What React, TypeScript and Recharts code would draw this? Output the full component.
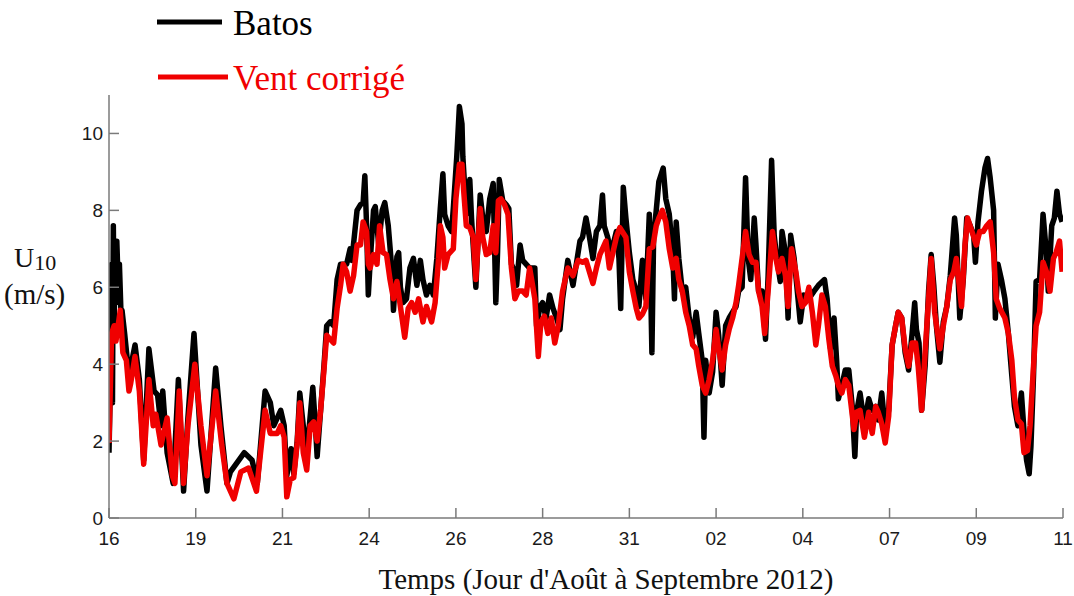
import React from "react";
import { LineChart, Line, XAxis, YAxis } from "recharts";

// x in tick units (0 = "16", 11 = "11"), y = U10 in m/s
const xLabels = ["16", "19", "21", "24", "26", "28", "31", "02", "04", "07", "09", "11"];
const xTicks = [0, 1, 2, 3, 4, 5, 6, 7, 8, 9, 10, 11];
const yTicks = [0, 2, 4, 6, 8, 10];

const batosT = [
  0.0, 0.02, 0.03, 0.04, 0.05, 0.06, 0.07, 0.08, 0.09, 0.11, 0.12, 0.14, 0.15, 0.18, 0.23, 0.3, 0.35, 0.4, 0.46, 0.52,
  0.56, 0.6, 0.62, 0.67, 0.74, 0.8, 0.86, 0.91, 0.98, 1.06, 1.13, 1.23, 1.29, 1.36, 1.4, 1.56, 1.65, 1.71, 1.8,
  1.86, 1.9, 1.98, 2.02, 2.05, 2.1, 2.13, 2.17, 2.2, 2.24, 2.28, 2.31, 2.35, 2.38, 2.4, 2.44, 2.48, 2.51, 2.55, 2.59,
  2.63, 2.67, 2.74, 2.78, 2.8, 2.86, 2.9, 2.93, 2.95, 2.97, 2.99, 3.01, 3.05, 3.07, 3.11, 3.15, 3.18, 3.22, 3.26, 3.28,
  3.32, 3.34, 3.36, 3.39, 3.43, 3.47, 3.51, 3.55, 3.59,
  3.62, 3.66, 3.7, 3.74, 3.78, 3.82, 3.85, 3.87, 3.91, 3.95, 3.97, 4.01, 4.04, 4.07, 4.08, 4.12, 4.16, 4.18, 4.21, 4.23,
  4.26, 4.28, 4.31, 4.35, 4.39, 4.43, 4.46, 4.48, 4.5, 4.54, 4.58, 4.61, 4.64, 4.66, 4.7, 4.74, 4.77, 4.85, 4.91, 4.93,
  4.97, 5.0, 5.04, 5.08, 5.12, 5.16, 5.2, 5.23, 5.29, 5.35, 5.43,
  5.46, 5.5, 5.54, 5.58, 5.62, 5.66, 5.69, 5.71, 5.75, 5.79, 5.85, 5.88, 5.9, 5.93, 5.96, 6.0, 6.04, 6.08, 6.11, 6.15,
  6.19, 6.23, 6.26, 6.28, 6.31, 6.34, 6.39, 6.42, 6.46, 6.5, 6.52, 6.54, 6.57, 6.61, 6.65, 6.69, 6.73, 6.77, 6.8, 6.84,
  6.86, 6.88, 6.92, 6.96, 7.0, 7.03, 7.07, 7.11, 7.15, 7.23, 7.26,
  7.3, 7.34, 7.37, 7.4, 7.44, 7.46, 7.49, 7.53, 7.57, 7.6, 7.64, 7.67, 7.7, 7.74, 7.76, 7.8, 7.83, 7.86, 7.9, 7.93,
  7.97, 8.01, 8.07, 8.13, 8.18, 8.25, 8.28, 8.32, 8.36, 8.39, 8.41, 8.45, 8.49, 8.53, 8.57, 8.6, 8.62, 8.66, 8.71, 8.76,
  8.8, 8.84, 8.87, 8.91, 8.95, 8.99, 9.03, 9.07, 9.1,
  9.14, 9.18, 9.22, 9.26, 9.29, 9.31, 9.34, 9.37, 9.41, 9.45, 9.48, 9.51, 9.54, 9.58, 9.62, 9.66, 9.7, 9.75, 9.77, 9.81,
  9.85, 9.89, 9.93, 9.97, 9.99, 10.02, 10.06, 10.1, 10.13, 10.16, 10.2, 10.22, 10.25, 10.29, 10.33, 10.37, 10.41, 10.44,
  10.48, 10.52, 10.56, 10.58, 10.61, 10.63, 10.66, 10.69, 10.73, 10.77, 10.81, 10.83, 10.87, 10.9, 10.93, 10.96, 10.99,
];
const batosU = [
  1.7, 4.0, 6.6, 3.0, 7.6, 5.0, 7.2, 5.6, 7.2, 5.8, 6.6, 5.2, 5.4, 4.8, 3.7, 4.5, 3.6, 1.5, 4.4, 3.3,
  3.2, 2.4, 3.3, 1.7, 0.9, 3.6, 0.7, 2.6, 4.8, 1.9, 0.7, 3.9, 2.4, 0.9, 1.2, 1.7, 1.5, 0.9, 3.3,
  3.0, 2.4, 2.8, 2.4, 1.1, 1.8, 1.15, 2.0, 3.25, 2.4, 1.7, 2.4, 3.4, 2.4, 1.6, 2.8, 4.0, 5.0, 5.1, 5.0,
  6.2, 6.6, 6.6, 7.0, 6.7, 8.0, 8.15, 8.2, 8.9, 7.6, 5.8, 6.6, 8.0, 8.1, 7.1, 8.0, 8.2, 7.6, 6.5, 5.4,
  6.8, 6.9, 6.0, 5.6, 5.7, 6.5, 6.75, 6.05, 6.7,
  6.2, 5.8, 6.05, 5.8, 6.75, 8.05, 8.95, 7.9, 7.6, 7.45, 8.05, 9.4, 10.7, 10.25, 9.4, 7.9, 8.8, 7.8, 6.7, 6.0,
  7.45, 8.4, 7.8, 7.45, 8.3, 8.7, 5.6, 6.9, 8.8, 8.25, 8.15, 8.05, 6.6, 6.5, 6.05, 7.1, 6.7, 6.5, 6.5, 5.0,
  5.5, 5.6, 5.2, 5.8, 5.45, 5.2, 4.9, 5.7, 6.7, 6.05, 7.2,
  7.3, 7.8, 7.3, 6.75, 7.45, 7.6, 8.4, 7.6, 7.3, 6.9, 7.45, 6.75, 5.45, 8.6, 7.8, 6.9, 6.2, 5.9, 5.5, 6.7,
  5.7, 7.9, 4.3, 7.35, 8.0, 8.75, 9.1, 8.3, 7.9, 6.9, 5.7, 7.7, 6.75, 5.9, 6.0, 5.2, 4.7, 5.35, 4.8, 4.1,
  2.1, 4.1, 3.25, 3.8, 5.35, 4.75, 3.45, 5.0, 5.2, 5.5, 5.9,
  6.0, 8.85, 6.75, 6.2, 7.8, 7.1, 5.9, 5.9, 4.65, 6.3, 9.3, 7.35, 6.75, 6.15, 7.45, 6.9, 5.2, 7.35, 6.75, 6.05,
  5.1, 5.8, 5.7, 5.9, 6.05, 6.2, 5.7, 4.4, 5.2, 4.1, 3.1, 3.45, 3.85, 3.85, 2.9, 1.6, 2.75, 3.25, 2.45, 3.1,
  2.8, 2.9, 2.55, 3.25, 2.3, 2.8, 4.5, 5.0, 5.35,
  5.2, 4.3, 3.85, 4.8, 5.6, 4.9, 4.55, 2.8, 3.95, 5.9, 6.85, 6.05, 5.0, 4.05, 5.1, 5.5, 6.3, 7.8, 7.35, 5.2,
  6.2, 7.8, 7.6, 7.35, 6.65, 7.7, 8.5, 9.1, 9.35, 8.85, 8.0, 5.2, 6.6, 6.2, 5.7, 4.8, 3.7, 2.9,
  2.4, 3.25, 1.95, 1.5, 1.15, 1.85, 3.7, 6.15, 6.2, 7.9, 6.85, 5.9, 7.6, 7.8, 8.5, 7.9, 7.7,
];

const ventT = [
  0.0, 0.03, 0.06, 0.08, 0.13, 0.16, 0.2, 0.23, 0.25, 0.3, 0.35, 0.4, 0.46, 0.51, 0.54, 0.6, 0.67, 0.73, 0.76, 0.81,
  0.86, 0.91, 0.99, 1.06, 1.13, 1.23, 1.3, 1.36, 1.44, 1.52, 1.61, 1.7, 1.8,
  1.86, 1.94, 1.98, 2.02, 2.05, 2.09, 2.13, 2.17, 2.2, 2.24, 2.28, 2.32, 2.36, 2.4, 2.44, 2.48, 2.51, 2.59, 2.63, 2.67,
  2.7, 2.74, 2.78, 2.82, 2.86, 2.9, 2.93, 2.97, 2.99, 3.01, 3.05, 3.09, 3.12, 3.16, 3.2, 3.24, 3.28, 3.32, 3.36, 3.41,
  3.45, 3.49, 3.53, 3.57,
  3.62, 3.66, 3.72, 3.76, 3.8, 3.82, 3.85, 3.87, 3.91, 3.97, 4.0, 4.04, 4.07, 4.09, 4.12, 4.16, 4.2, 4.23, 4.26, 4.28,
  4.31, 4.35, 4.39, 4.43, 4.46, 4.49, 4.52, 4.56, 4.6, 4.64, 4.68, 4.72, 4.77, 4.81, 4.85, 4.91, 4.95, 4.98, 5.02, 5.06,
  5.1, 5.14, 5.18, 5.23, 5.29, 5.35, 5.41,
  5.46, 5.5, 5.54, 5.58, 5.62, 5.66, 5.69, 5.73, 5.77, 5.81, 5.85, 5.89, 5.96, 6.0, 6.04, 6.08, 6.11, 6.15, 6.19, 6.23,
  6.27, 6.31, 6.34, 6.38, 6.42, 6.46, 6.5, 6.54, 6.57, 6.61, 6.65, 6.69, 6.73, 6.77, 6.8, 6.84, 6.88, 6.92, 6.96, 7.0,
  7.03, 7.07, 7.11, 7.15, 7.19, 7.23, 7.26, 7.3, 7.34,
  7.38, 7.42, 7.46, 7.49, 7.53, 7.56, 7.6, 7.65, 7.69, 7.72, 7.76, 7.8, 7.83, 7.87, 7.92, 7.95, 7.99, 8.03, 8.07, 8.11,
  8.15, 8.18, 8.22, 8.26, 8.3, 8.34, 8.38, 8.41, 8.45, 8.49, 8.53, 8.59, 8.62, 8.66, 8.71, 8.76, 8.8, 8.84, 8.87, 8.91,
  8.95, 8.99, 9.03, 9.07, 9.1,
  9.14, 9.18, 9.22, 9.26, 9.3, 9.33, 9.37, 9.41, 9.45, 9.48, 9.52, 9.58, 9.62, 9.66, 9.7, 9.74, 9.77, 9.83, 9.87, 9.9,
  9.95, 10.0, 10.04, 10.08, 10.12, 10.16, 10.2, 10.23, 10.27, 10.33, 10.37, 10.41, 10.44, 10.48, 10.52, 10.55, 10.59,
  10.62, 10.66, 10.69, 10.73, 10.77, 10.81, 10.85, 10.89, 10.92, 10.96, 10.99,
];
const ventU = [
  1.95, 4.8, 5.0, 4.6, 5.4, 4.3, 4.1, 3.3, 3.5, 4.2, 3.3, 1.4, 3.6, 2.4, 2.7, 1.9, 2.6, 1.1, 0.9, 3.3,
  0.9, 2.4, 4.0, 2.4, 1.1, 3.3, 1.9, 0.9, 0.5, 1.2, 1.3, 0.7, 2.8,
  2.2, 2.2, 2.4, 2.1, 0.55, 1.0, 1.05, 1.95, 3.0, 1.7, 1.25, 2.4, 2.5, 2.0, 2.8, 3.9, 4.75, 4.55, 5.45, 6.05,
  6.6, 6.4, 5.9, 6.3, 7.1, 7.1, 7.7, 7.45, 6.6, 6.5, 6.85, 6.6, 7.6, 6.9, 6.85, 6.2, 5.7, 6.15, 5.5, 4.7,
  5.45, 5.6, 5.35, 5.7,
  5.1, 5.5, 5.1, 5.6, 6.75, 7.6, 7.3, 6.5, 6.85, 7.0, 8.3, 9.2, 9.2, 8.5, 7.6, 7.55, 7.3, 6.2, 7.35, 8.05,
  7.3, 6.85, 6.9, 7.6, 6.9, 8.25, 8.3, 8.15, 7.9, 6.5, 5.7, 5.9, 5.9, 5.8, 6.5, 5.7, 4.2, 5.1, 5.25, 4.8,
  5.2, 4.55, 5.0, 5.9, 6.5, 6.3, 6.7,
  6.65, 6.7, 6.4, 6.1, 6.5, 6.85, 7.0, 7.2, 6.5, 6.9, 7.3, 7.55, 7.3, 6.4, 5.9, 5.45, 5.2, 5.3, 5.5, 7.0,
  7.05, 7.6, 7.8, 8.0, 7.7, 7.0, 6.5, 6.75, 6.2, 5.9, 5.35, 5.0, 4.5, 4.4, 3.95, 3.45, 3.25, 3.6, 4.1, 4.9,
  4.4, 3.85, 4.5, 4.9, 5.2, 5.6, 6.05, 6.75, 7.45,
  6.85, 6.65, 6.65, 5.9, 5.5, 4.8, 5.9, 7.45, 6.75, 6.4, 6.75, 6.3, 5.5, 7.0, 6.4, 5.9, 5.5, 5.6, 6.0, 5.35,
  4.5, 5.0, 5.8, 5.5, 4.65, 3.95, 3.7, 3.45, 3.25, 3.6, 3.45, 2.3, 2.75, 2.8, 2.1, 2.75, 2.2, 2.9, 2.75, 2.45,
  1.95, 2.65, 4.5, 5.0, 5.35,
  5.2, 4.4, 3.95, 4.55, 4.55, 3.95, 2.8, 4.3, 5.7, 6.75, 5.35, 4.4, 5.0, 5.5, 6.2, 6.4, 6.75, 5.5, 7.1, 7.8,
  7.45, 7.1, 7.45, 7.45, 7.6, 7.7, 6.9, 5.7, 5.45, 5.2, 4.8, 4.1, 3.15, 2.55, 2.45, 1.7, 1.75,
  2.4, 3.95, 5.0, 5.35, 6.65, 6.4, 5.9, 6.75, 6.9, 7.2, 6.4,
];

const batos = batosT.map((t, i) => ({ t, u: batosU[i] }));
const vent = ventT.map((t, i) => ({ t, u: ventU[i] }));

const serif = "'Liberation Serif', 'Times New Roman', serif";
const sans = "'Liberation Sans', Arial, sans-serif";
const axisGray = "#7a7a7a";

export default function App() {
  return (
    <div style={{ position: "absolute", left: 0, top: 0, width: 1074, height: 596, background: "#fff" }}>
      <LineChart
        width={1074}
        height={596}
        margin={{ top: 95, right: 11, bottom: 38, left: 49 }}
      >
        <XAxis
          dataKey="t"
          type="number"
          domain={[0, 11]}
          ticks={xTicks}
          interval={0}
          allowDataOverflow
          tickFormatter={(v: number) => xLabels[v] ?? ""}
          height={40}
          tickSize={-10}
          tickMargin={24}
          axisLine={{ stroke: axisGray, strokeWidth: 1.5 }}
          tickLine={{ stroke: axisGray, strokeWidth: 1.5 }}
          tick={{ fill: "#1a1a1a", fontSize: 19, fontFamily: sans }}
        />
        <YAxis
          type="number"
          domain={[0, 11]}
          ticks={yTicks}
          interval={0}
          allowDataOverflow
          width={60}
          tickSize={-10}
          tickMargin={16}
          axisLine={{ stroke: axisGray, strokeWidth: 1.5 }}
          tickLine={{ stroke: axisGray, strokeWidth: 1.5 }}
          tick={{ fill: "#1a1a1a", fontSize: 19, fontFamily: sans }}
        />
        <Line
          data={batos}
          dataKey="u"
          type="linear"
          stroke="#000000"
          strokeWidth={5.5}
          strokeLinejoin="round"
          dot={false}
          isAnimationActive={false}
        />
        <Line
          data={vent}
          dataKey="u"
          type="linear"
          stroke="#f00000"
          strokeWidth={5.5}
          strokeLinejoin="round"
          dot={false}
          isAnimationActive={false}
        />
      </LineChart>
      <svg
        width={1074}
        height={596}
        style={{ position: "absolute", left: 0, top: 0, pointerEvents: "none" }}
      >
        <line x1={157} x2={222} y1={22} y2={22} stroke="#000" strokeWidth={5} />
        <text x={233} y={35} fontFamily={serif} fontSize={35} fill="#000">Batos</text>
        <line x1={158} x2={228} y1={77} y2={77} stroke="#f00000" strokeWidth={5} />
        <text x={233} y={90} fontFamily={serif} fontSize={35} fill="#f00000">Vent corrigé</text>

        <text x={14} y={267} fontFamily={serif} fontSize={28} fill="#111">
          U<tspan fontSize={22} dy={3}>10</tspan>
        </text>
        <text x={4} y={304} fontFamily={serif} fontSize={29} fill="#111">(m/s)</text>

        <text x={606} y={589} textAnchor="middle" fontFamily={serif} fontSize={29} fill="#111">
          Temps (Jour d'Août à Septembre 2012)
        </text>
      </svg>
    </div>
  );
}
